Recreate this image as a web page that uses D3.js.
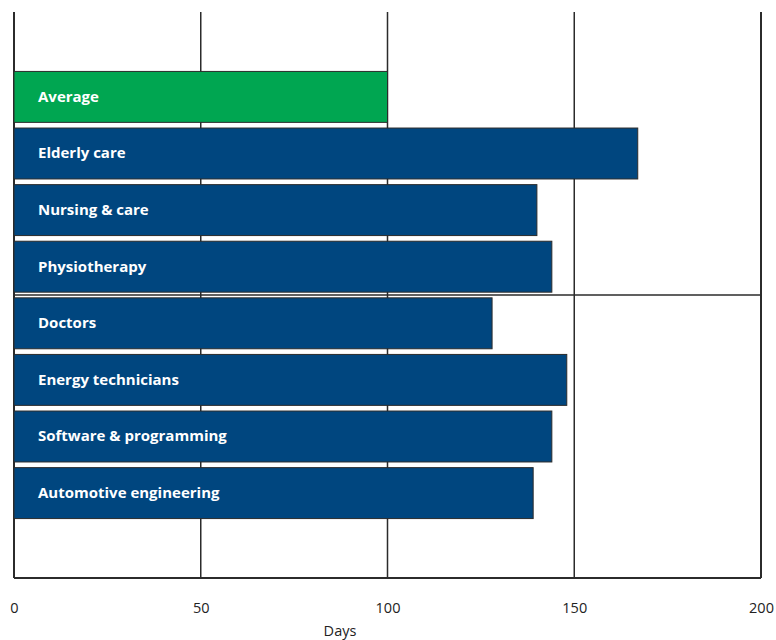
<!DOCTYPE html>
<html>
<head>
<meta charset="utf-8">
<script src="https://cdn.jsdelivr.net/npm/d3@7"></script>
<style>
  html, body { margin: 0; padding: 0; background: #fff; }
  svg { display: block; }
</style>
</head>
<body>
<svg id="chart" width="776" height="640"></svg>
<script>
const categories = ["Average", "Elderly care", "Nursing & care", "Physiotherapy", "Doctors", "Energy technicians", "Software & programming", "Automotive engineering"];
const values = [100, 167, 140, 144, 128, 148, 144, 139];
const highlight = ["Average"];
const xTicks = [0, 50, 100, 150, 200];
const xLabel = "Days";

(function () {
const svg = d3.select("#chart");
const mLeft = 14, mRight = 761, mTop = 12, mBottom = 578;

const x = d3.scaleLinear().domain([0, 200]).range([mLeft, mRight]);
// one empty slot above and below the bars
const slots = ["__top", ...categories, "__bottom"];
const y = d3.scaleBand().domain(slots).range([mTop, mBottom]).paddingInner(0.1).paddingOuter(0.05);

const lineColor = "#2b2b2b";

// vertical gridlines (including frame sides)
svg.append("g").selectAll("line").data(xTicks).join("line")
  .attr("x1", d => x(d)).attr("x2", d => x(d))
  .attr("y1", mTop).attr("y2", mBottom)
  .attr("stroke", lineColor)
  .attr("stroke-width", d => (d === 0 || d === 200) ? 2 : 1.5);

// bottom frame line
svg.append("line")
  .attr("x1", x(0)).attr("x2", x(200))
  .attr("y1", mBottom).attr("y2", mBottom)
  .attr("stroke", lineColor).attr("stroke-width", 2);

// middle horizontal line
const midY = (mTop + mBottom) / 2;
svg.append("line")
  .attr("x1", x(0)).attr("x2", x(200))
  .attr("y1", midY).attr("y2", midY)
  .attr("stroke", lineColor).attr("stroke-width", 1.5);

// bars
svg.append("g").selectAll("rect").data(categories).join("rect")
  .attr("x", x(0))
  .attr("y", d => y(d))
  .attr("width", (d, i) => x(values[i]) - x(0))
  .attr("height", y.bandwidth())
  .attr("fill", d => highlight.includes(d) ? "#00a651" : "#00467f")
  .attr("stroke", "#2b2b2b")
  .attr("stroke-width", 1);

// bar labels
svg.append("g").selectAll("text").data(categories).join("text")
  .attr("x", 38)
  .attr("y", d => y(d) + y.bandwidth() / 2)
  .attr("dy", "0.33em")
  .attr("fill", "#fff")
  .attr("font-family", "'Open Sans', sans-serif")
  .attr("font-weight", "bold")
  .attr("font-size", "15px")
  .text(d => d);

// x axis tick labels
const xAxis = d3.axisBottom(x).tickValues(xTicks).tickSize(0).tickPadding(0);
const gx = svg.append("g").attr("transform", "translate(0, 603)").call(xAxis);
gx.select(".domain").remove();
gx.selectAll("text")
  .attr("font-family", "'Open Sans', sans-serif")
  .attr("font-size", "14.5px")
  .attr("fill", "#222")
  .attr("dy", "0.35em")
  .attr("y", 4.5);

// axis title
svg.append("text")
  .attr("x", 340).attr("y", 631)
  .attr("dy", "0.35em")
  .attr("text-anchor", "middle")
  .attr("font-family", "'Open Sans', sans-serif")
  .attr("font-size", "14.5px")
  .attr("fill", "#222")
  .text(xLabel);
})();
</script>
</body>
</html>
